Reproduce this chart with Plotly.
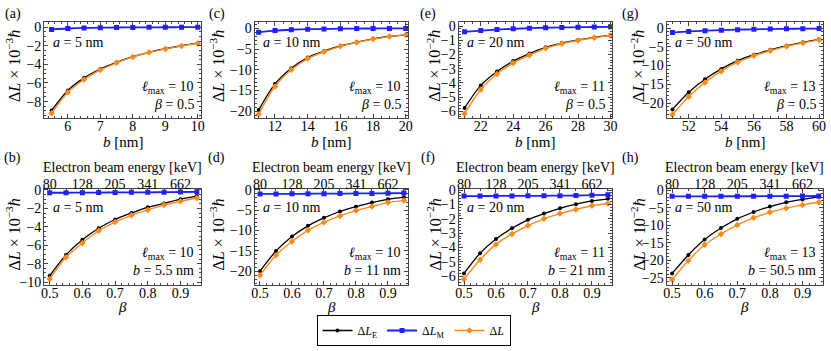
import plotly.graph_objects as go

# ---------------- data ----------------
b_a = [5.5, 6.0, 6.5, 7.0, 7.5, 8.0, 8.5, 9.0, 9.5, 10.0]
E_a = [-8.95, -6.8, -5.45, -4.5, -3.78, -3.17, -2.70, -2.32, -2.0, -1.73]
M_a = [-0.25, -0.15, -0.09, -0.06, -0.04, -0.03, -0.02, -0.015, -0.01, -0.01]
L_a = [-9.25, -7.0, -5.62, -4.6, -3.83, -3.2, -2.72, -2.34, -2.02, -1.75]

b_c = [11, 12, 13, 14, 15, 16, 17, 18, 19, 20]
E_c = [-19.7, -13.4, -9.6, -7.05, -5.5, -4.25, -3.33, -2.55, -1.96, -1.57]
M_c = [-0.95, -0.55, -0.35, -0.22, -0.15, -0.1, -0.07, -0.05, -0.04, -0.03]
L_c = [-20.7, -14.0, -10.0, -7.3, -5.65, -4.35, -3.4, -2.6, -2.0, -1.6]

b_e = [21, 22, 23, 24, 25, 26, 27, 28, 29, 30]
E_e = [-5.77, -4.18, -3.2, -2.47, -1.94, -1.5, -1.2, -0.98, -0.8, -0.64]
M_e = [-0.41, -0.32, -0.25, -0.2, -0.15, -0.12, -0.1, -0.08, -0.07, -0.06]
L_e = [-6.18, -4.47, -3.38, -2.6, -2.05, -1.57, -1.25, -1.02, -0.83, -0.66]

b_g = [51, 52, 53, 54, 55, 56, 57, 58, 59, 60]
E_g = [-21.7, -17.1, -13.65, -10.9, -8.7, -7.1, -5.8, -4.7, -3.8, -3.0]
M_g = [-1.2, -0.9, -0.7, -0.55, -0.42, -0.33, -0.26, -0.2, -0.16, -0.13]
L_g = [-23.05, -18.3, -14.5, -11.5, -9.1, -7.4, -6.05, -4.9, -3.95, -3.15]

beta = [0.5, 0.55, 0.6, 0.65, 0.7, 0.75, 0.8, 0.85, 0.9, 0.95]
E_b = [-9.3, -7.04, -5.4, -4.15, -3.2, -2.5, -1.88, -1.46, -1.0, -0.66]
M_b = [-0.3, -0.3, -0.29, -0.28, -0.27, -0.26, -0.25, -0.24, -0.22, -0.2]
L_b = [-9.65, -7.3, -5.75, -4.42, -3.48, -2.75, -2.16, -1.64, -1.22, -0.87]

E_d = [-20.0, -15.06, -11.5, -8.86, -6.9, -5.33, -4.16, -3.14, -2.35, -1.8]
M_d = [-1.0, -1.0, -0.98, -0.97, -0.95, -0.93, -0.9, -0.88, -0.85, -0.8]
L_d = [-21.0, -16.1, -12.7, -9.96, -8.0, -6.43, -5.1, -4.08, -3.14, -2.6]

E_f = [-5.8, -4.4, -3.4, -2.66, -2.07, -1.64, -1.27, -0.98, -0.76, -0.61]
M_f = [-0.42, -0.42, -0.41, -0.41, -0.40, -0.40, -0.39, -0.38, -0.36, -0.33]
L_f = [-6.2, -4.85, -3.78, -3.05, -2.47, -2.0, -1.64, -1.35, -1.09, -0.94]

E_h = [-23.8, -18.5, -14.1, -10.8, -8.15, -6.2, -4.63, -3.43, -2.6, -1.85]
M_h = [-1.72, -1.72, -1.71, -1.7, -1.7, -1.69, -1.68, -1.67, -1.65, -1.62]
L_h = [-25.6, -20.1, -15.6, -12.5, -9.9, -7.87, -6.3, -5.1, -4.17, -3.43]

energy_beta = [0.5, 0.6, 0.7, 0.8, 0.9]
energy_labels = ["80", "128", "205", "341", "662"]

panel_labels = ["(a)", "(b)", "(c)", "(d)", "(e)", "(f)", "(g)", "(h)"]
a_labels = ["5", "5", "10", "10", "20", "20", "50", "50"]
lmax_labels = ["10", "10", "10", "10", "11", "11", "13", "13"]
exponents = ["3", "3", "3", "3", "2", "2", "2", "2"]
bottom_b_labels = ["5.5", "11", "21", "50.5"]

# ---------------- layout helpers ----------------
W, H = 831, 351
FONT = "Liberation Serif"
def fx(p): return p / W
def fy(p): return 1 - p / H

cols = [(41.5, 200), (254, 409), (460, 615), (670, 828)]
top_rows = (17, 116)
bot_rows = (188.5, 288)

panels = [
    # (xdata, E, M, L, xrange, yrange, xdtick, xtick0, xminor, ydtick, yminor, row, col)
    (b_a, E_a, M_a, L_a, [5.27, 10.1], [-9.8, 0.5], 1, 6, 0.2, 2, 0.5, 0, 0),
    (beta, E_b, M_b, L_b, [0.483, 0.963], [-10.3, 0.15], 0.1, 0.5, 0.02, 2, 0.5, 1, 0),
    (b_c, E_c, M_c, L_c, [10.75, 20.14], [-21.7, 1.4], 2, 12, 0.5, 5, 1, 0, 1),
    (beta, E_d, M_d, L_d, [0.483, 0.963], [-23.4, 0.3], 0.1, 0.5, 0.02, 5, 1, 1, 1),
    (b_e, E_e, M_e, L_e, [20.63, 30.1], [-6.5, 0.25], 2, 22, 0.5, 1, 0.2, 0, 2),
    (beta, E_f, M_f, L_f, [0.483, 0.963], [-6.6, 0.1], 0.1, 0.5, 0.02, 1, 0.2, 1, 2),
    (b_g, E_g, M_g, L_g, [50.64, 60.24], [-24.1, 1.5], 2, 52, 0.5, 5, 1, 0, 3),
    (beta, E_h, M_h, L_h, [0.483, 0.963], [-27.1, 0.5], 0.1, 0.5, 0.02, 5, 1, 1, 3),
]

BLACK = "#000000"
BLUE = "#1f1fff"
ORANGE = "#ff8a1c"
FRAME = "#444444"

fig = go.Figure()
layout = dict(
    width=W, height=H, margin=dict(l=0, r=0, t=0, b=0),
    paper_bgcolor="white", plot_bgcolor="white",
    font=dict(family=FONT, size=14, color="black"),
    showlegend=True,
)
annotations = []

def axis_common():
    return dict(showline=True, linecolor=FRAME, linewidth=1, ticks="inside",
                ticklen=4, tickwidth=1, tickcolor=FRAME, showgrid=False, zeroline=False,
                tickfont=dict(family=FONT, size=14, color="black"))

def ann(text, x, y, xanchor="center", size=14, angle=0):
    annotations.append(dict(text=text, x=fx(x), y=fy(y), xref="paper", yref="paper",
                            xanchor=xanchor, yanchor="middle", showarrow=False,
                            textangle=angle, font=dict(family=FONT, size=size, color="black")))

bottom_idx = 0
for k, (xd, E, M, L, xr, yr, xdt, x0, xmin, ydt, ymin, row, col) in enumerate(panels):
    n = k + 1
    xs = "x" if n == 1 else f"x{n}"
    ys = "y" if n == 1 else f"y{n}"
    xl = "xaxis" if n == 1 else f"xaxis{n}"
    yl = "yaxis" if n == 1 else f"yaxis{n}"
    left, right = cols[col]
    top, bot = top_rows if row == 0 else bot_rows

    xa = axis_common()
    xa.update(domain=[fx(left), fx(right)], anchor=ys, range=xr, dtick=xdt, tick0=x0,
              ticklabelstandoff=-5,
              minor=dict(ticks="inside", ticklen=2, dtick=xmin, tickcolor=FRAME))
    xa["mirror"] = "ticks" if row == 0 else True
    ya = axis_common()
    ya.update(domain=[fy(bot), fy(top)], anchor=xs, range=yr, dtick=ydt, tick0=0,
              mirror="ticks", ticklabelstandoff=-1,
              minor=dict(ticks="inside", ticklen=2, dtick=ymin, tickcolor=FRAME))
    layout[xl] = xa
    layout[yl] = ya

    first = (n == 1)
    for name, data, color, sym, size, lw in [
        ("Δ<i>L</i><sub>E</sub>", E, BLACK, "circle", 4, 1.3),
        ("Δ<i>L</i><sub>M</sub>", M, BLUE, "square", 5, 1.8),
        ("Δ<i>L</i>", L, ORANGE, "diamond", 5, 1.4),
    ]:
        fig.add_trace(go.Scatter(
            x=xd, y=data, xaxis=xs, yaxis=ys, name=name, mode="lines+markers",
            line=dict(color=color, width=lw, shape="spline", smoothing=0.8),
            marker=dict(color=color, symbol=sym, size=size),
            showlegend=first, hoverinfo="skip"))

    # text annotations
    ann(panel_labels[k], [10, 216, 429, 634][col], 8 if row == 0 else 157)
    ann(f"<i>a</i> = {a_labels[k]} nm", left + 6.5, 38 if row == 0 else 208, xanchor="left")
    ann(f"<i>ℓ</i><sub>max</sub> = {lmax_labels[k]}", right - 5, 84 if row == 0 else 255, xanchor="right")
    if row == 0:
        ann("<i>β</i> = 0.5", right - 5, 102, xanchor="right")
        ann("<i>b</i> [nm]", (left + right) / 2, 140, size=15)
    else:
        ann(f"<i>b</i> = {bottom_b_labels[col]} nm", right - 5, 273, xanchor="right")
        ann("<i>β</i>", (left + right) / 2, 311, size=15)
        ann("Electron beam energy [keV]", (left + right) / 2, 167)
    ycent = 62 if row == 0 else 236
    ann(f"Δ<i>L</i> × 10<sup>−{exponents[k]}</sup><i>ħ</i>", [10, 216, 435, 641][col], ycent,
        size=16, angle=-90)

    if row == 1:
        tn = 9 + bottom_idx
        bottom_idx += 1
        ta = axis_common()
        ta.update(overlaying=xs, anchor=ys, side="top", range=xr,
                  tickvals=energy_beta, ticktext=energy_labels, showline=False,
                  ticklabelstandoff=-4,
                  minor=dict(ticks="inside", ticklen=2, tickvals=beta, tickcolor=FRAME))
        layout[f"xaxis{tn}"] = ta
        fig.add_trace(go.Scatter(x=[0.7], y=[None], xaxis=f"x{tn}", yaxis=ys,
                                 showlegend=False, hoverinfo="skip", mode="markers"))

layout["annotations"] = annotations
layout["legend"] = dict(orientation="h", x=fx(414.5), xanchor="center", y=fy(351), yanchor="bottom",
                        bgcolor="white", bordercolor="black", borderwidth=1,
                        font=dict(family=FONT, size=12), itemwidth=30,
                        tracegroupgap=0, traceorder="normal")
fig.update_layout(**layout)
fig.write_html("out.html", config={"displayModeBar": False},
               post_script="document.body.style.margin='0';document.body.style.padding='0';")
